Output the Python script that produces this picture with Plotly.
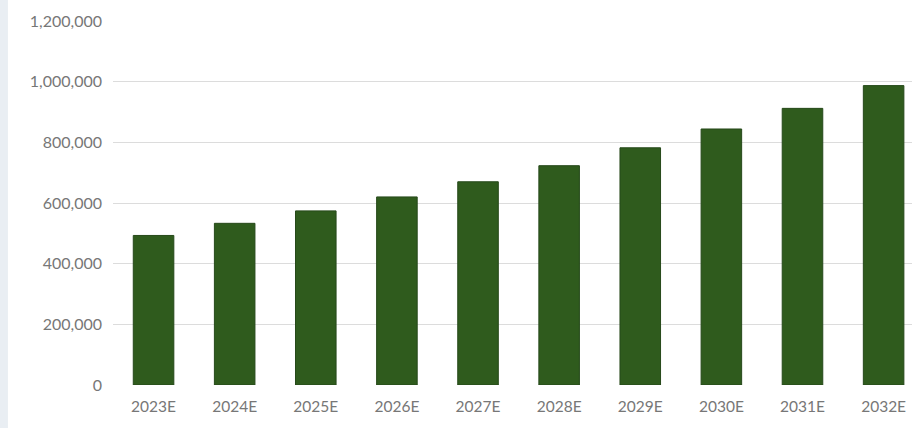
import plotly.graph_objects as go

years = ["2023E", "2024E", "2025E", "2026E", "2027E",
         "2028E", "2029E", "2030E", "2031E", "2032E"]
values = [493000, 533000, 574000, 620000, 670000,
          723000, 782000, 844000, 912000, 987000]
y_ticks = [0, 200000, 400000, 600000, 800000, 1000000, 1200000]
y_tick_text = ["0", "200,000", "400,000", "600,000", "800,000",
               "1,000,000", "1,200,000"]

fig = go.Figure(
    go.Bar(
        x=years,
        y=values,
        marker=dict(color="#2f5b1d", line=dict(color="#26491a", width=1)),
        hoverinfo="x+y",
    )
)

fig.update_layout(
    width=912,
    height=428,
    margin=dict(l=113, r=0, t=21, b=43),
    paper_bgcolor="white",
    plot_bgcolor="white",
    bargap=0.5,
    showlegend=False,
    font=dict(family="Lato, Open Sans, sans-serif", size=16, color="#777777"),
    shapes=[
        dict(type="rect", xref="paper", yref="paper",
             x0=-0.1414, x1=-0.1315, y0=-0.2, y1=1.1,
             fillcolor="#e9eef3", line=dict(width=0), layer="below"),
    ],
)

fig.update_xaxes(
    type="category",
    range=[-0.5, 9.35],
    showgrid=False,
    showline=False,
    ticks="",
    tickfont=dict(size=15.5, color="#777777"),
    ticklabelstandoff=10,
)

fig.update_yaxes(
    range=[0, 1200000],
    tickvals=y_ticks,
    ticktext=y_tick_text,
    showgrid=True,
    gridcolor="#dcdcdc",
    gridwidth=1,
    zeroline=False,
    showline=False,
    ticks="",
    tickfont=dict(size=16, color="#777777"),
    ticklabelstandoff=10,
)

fig.write_html("out.html")
